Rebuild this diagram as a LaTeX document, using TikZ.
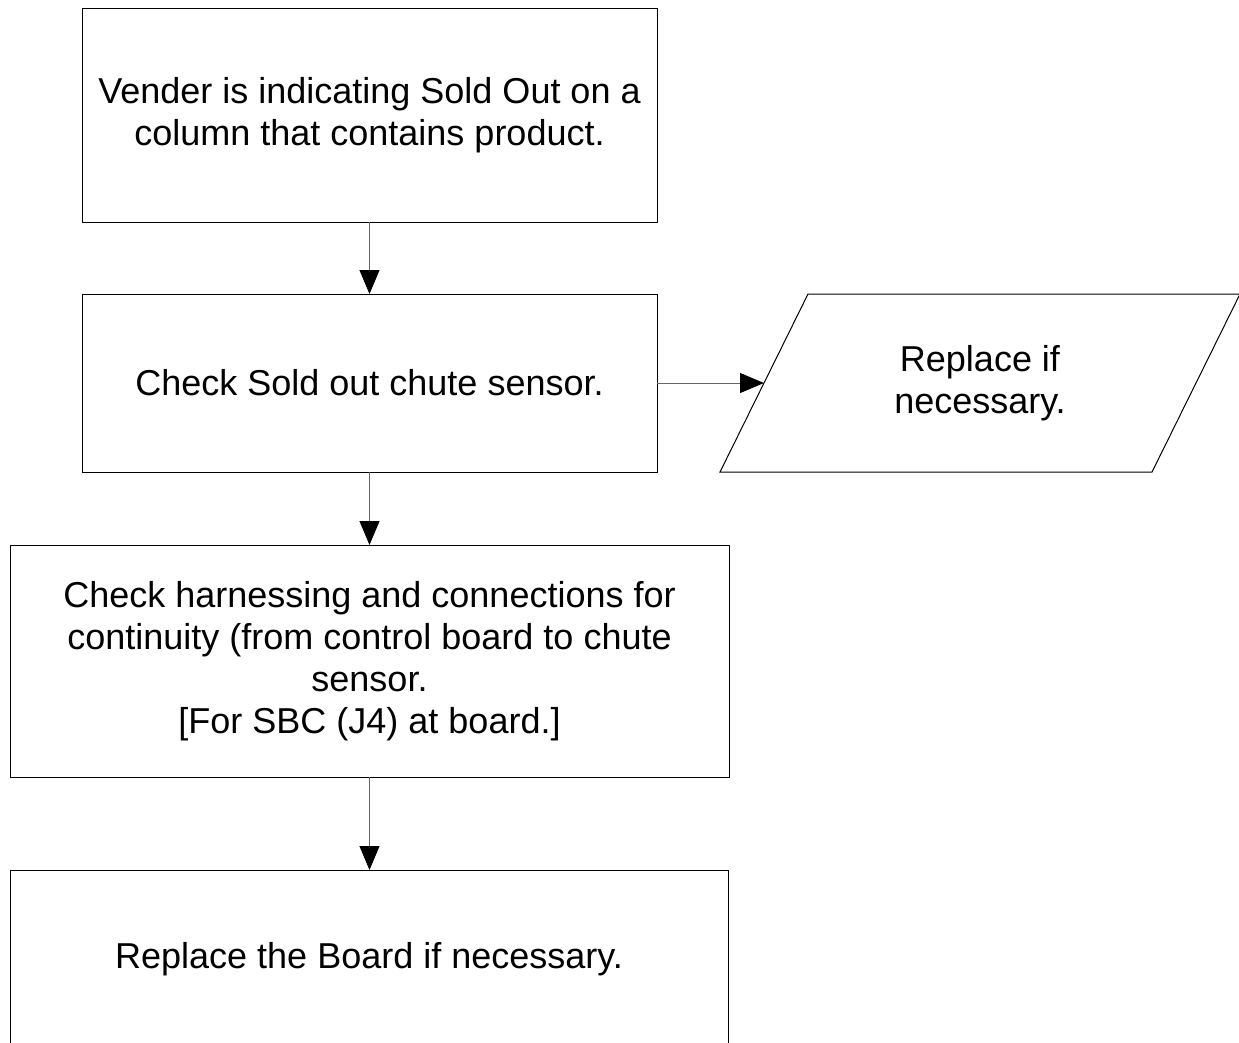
\documentclass[tikz,border=0pt]{standalone}
\usepackage{fontspec}
\setmainfont{Liberation Sans}
\usetikzlibrary{arrows.meta}
\begin{document}
\begin{tikzpicture}[x=1pt,y=-1pt,
  txt/.style={font=\fontsize{36}{42}\selectfont,align=center},
  box/.style={txt,draw=black,line width=1pt,rectangle,inner sep=0pt,outer sep=0pt},
  ioline/.style={draw=black,line width=1pt,line join=miter},
  conn/.style={draw=black!60,line width=1pt,-{Triangle[length=24pt,width=20pt,black]}}
]
\clip (0,0) rectangle (1239,1042);
\node[box,minimum width=575pt,minimum height=214pt] (A) at (369.5,115)
  {Vender is indicating Sold Out on a\\column that contains product.};
\node[box,minimum width=575pt,minimum height=178pt] (B) at (369.5,383)
  {Check Sold out chute sensor.};
\draw[ioline] (720,472) -- (808,294) -- (1240,294) -- (1152,472) -- cycle;
\node[txt,inner sep=0pt] (P) at (980,383) {Replace if\\necessary.};
\coordinate (Pw) at (764,383);
\node[box,minimum width=719pt,minimum height=232pt] (C) at (369.5,661)
  {Check harnessing and connections for\\continuity (from control board to chute\\sensor.\\{}[For SBC (J4) at board.]};
\node[box,minimum width=718pt,minimum height=178pt] (D) at (369,959)
  {Replace the Board if necessary.};
\draw[conn] (A) -- (B);
\draw[conn] (B.east) -- (Pw);
\draw[conn] (B) -- (C);
\draw[conn] (C.south -| B.south) -- (D.north -| B.south);
\end{tikzpicture}
\end{document}
